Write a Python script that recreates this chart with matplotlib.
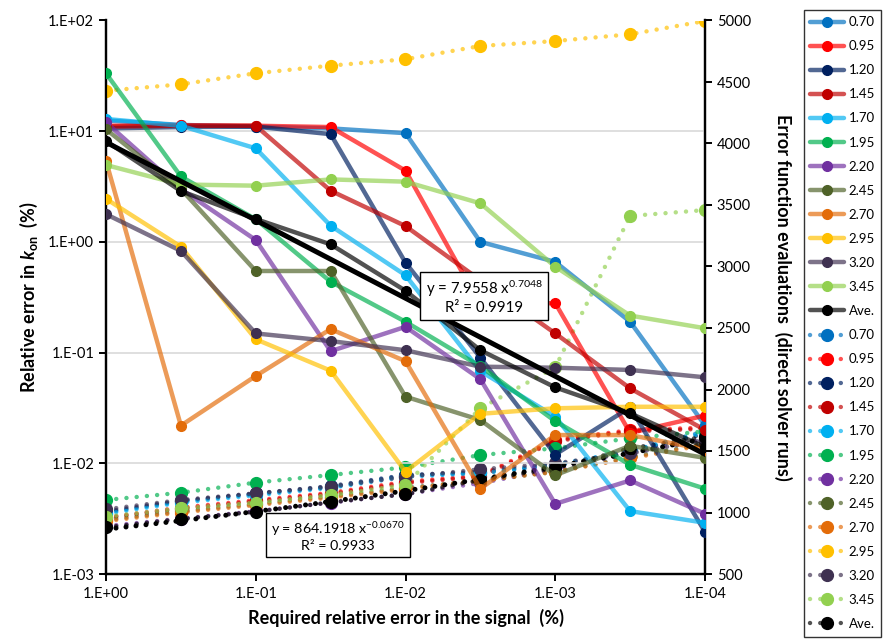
import numpy as np
import matplotlib
matplotlib.use("Agg")
import matplotlib.pyplot as plt
from matplotlib.lines import Line2D
from matplotlib.legend_handler import HandlerLine2D

plt.rcParams['font.family'] = ['Lato', 'DejaVu Sans']
plt.rcParams['mathtext.fontset'] = 'custom'
plt.rcParams['mathtext.rm'] = 'Lato'
plt.rcParams['mathtext.it'] = 'Lato:italic:bold'
plt.rcParams['mathtext.bf'] = 'Lato:bold'

# Required relative error in the signal (%)
signal_error = [1.0, 3.162e-1, 1.0e-1, 3.162e-2, 1.0e-2, 3.162e-3, 1.0e-3, 3.162e-4, 1.0e-4]

series_names = ["0.70", "0.95", "1.20", "1.45", "1.70", "1.95",
                "2.20", "2.45", "2.70", "2.95", "3.20", "3.45", "Ave."]

# Relative error in k_on (%)
err_070 = [12.5, 11.4, 11.0, 10.6, 9.6, 1.0, 0.66, 0.19, 0.022]
err_095 = [11.2, 11.3, 11.2, 10.9, 4.4, 0.27, 0.28, 0.0188, 0.027]
err_120 = [10.6, 10.9, 11.0, 9.4, 0.65, 0.09, 0.012, 0.032, 0.0024]
err_145 = [11.0, 11.2, 11.2, 2.9, 1.39, 0.45, 0.149, 0.0475, 0.020]
err_170 = [12.9, 11.2, 7.0, 1.4, 0.50, 0.068, 0.0264, 0.0037, 0.0029]
err_195 = [33.3, 3.9, 1.6, 0.437, 0.19, 0.075, 0.024, 0.0097, 0.0059]
err_220 = [12.0, 3.0, 1.04, 0.103, 0.171, 0.0575, 0.0043, 0.0070, 0.0035]
err_245 = [10.4, 3.0, 0.546, 0.546, 0.040, 0.0246, 0.0078, 0.0144, 0.0112]
err_270 = [5.38, 0.0219, 0.0615, 0.163, 0.0836, 0.0059, 0.018, 0.018, 0.0133]
err_295 = [2.45, 0.905, 0.132, 0.0687, 0.0084, 0.028, 0.0314, 0.0324, 0.0324]
err_320 = [1.78, 0.83, 0.149, 0.127, 0.105, 0.0746, 0.073, 0.0697, 0.0598]
err_345 = [4.95, 3.3, 3.22, 3.67, 3.5, 2.23, 0.597, 0.216, 0.166]
err_ave = [8.15, 2.88, 1.61, 0.95, 0.362, 0.105, 0.0485, 0.0283, 0.014]

# Error function evaluations (direct solver runs)
ev_070 = [1000, 1090, 1150, 1205, 1300, 1320, 1380, 1500, 1660]
ev_095 = [960, 1040, 1100, 1160, 1250, 1300, 1590, 1670, 1690]
ev_120 = [1010, 1095, 1155, 1215, 1305, 1330, 1390, 1490, 1640]
ev_145 = [955, 1030, 1090, 1150, 1240, 1290, 1580, 1660, 1680]
ev_170 = [990, 1080, 1140, 1200, 1290, 1320, 1390, 1500, 1650]
ev_195 = [1102, 1161, 1243, 1305, 1367, 1467, 1522, 1603, 1660]
ev_220 = [890, 950, 1010, 1080, 1150, 1240, 1350, 1480, 1600]
ev_245 = [940, 1010, 1070, 1130, 1200, 1260, 1330, 1450, 1560]
ev_270 = [930, 1000, 1060, 1120, 1190, 1260, 1330, 1440, 1550]
ev_295 = [4429, 4481, 4571, 4633, 4685, 4793, 4833, 4888, 4996]
ev_320 = [1026, 1102, 1156, 1210, 1290, 1351, 1400, 1480, 1590]
ev_345 = [966, 1034, 1080, 1142, 1224, 1847, 2180, 3411, 3459]
ev_ave = [880, 947, 1006, 1083, 1148, 1264, 1359, 1522, 1616]

# Power-law fits y = a * x^b, with R²
fit_err = (7.9558, 0.7048, 0.9919)
fit_ev = (864.1918, -0.0670, 0.9933)

errors = [err_070, err_095, err_120, err_145, err_170, err_195, err_220,
          err_245, err_270, err_295, err_320, err_345, err_ave]
evals = [ev_070, ev_095, ev_120, ev_145, ev_170, ev_195, ev_220,
         ev_245, ev_270, ev_295, ev_320, ev_345, ev_ave]

line_colors = ["#0070C0", "#FF0000", "#002060", "#C00000", "#00B0F0", "#00B050",
               "#7030A0", "#4F6228", "#E36C09", "#FFC000", "#3F3151", "#92D050", "#000000"]

fig = plt.figure(figsize=(8.86, 6.42), dpi=100)
ax = fig.add_axes([106/886, 1 - 574/642, 599/886, 553.5/642])
ax2 = ax.twinx()

x = np.array(signal_error)
LW = 3.2
MS = 7.0
ALPHA = 0.68
dots = (0, (0.01, 2.3))

solid_handles = []
dot_handles = []
for name, e, v, c in zip(series_names, errors, evals, line_colors):
    ax.plot(x, e, color=c, lw=LW, alpha=ALPHA, solid_capstyle='round', zorder=2)
    ax.plot(x, e, ls='none', marker='o', ms=MS, color=c, zorder=3)
    ax2.plot(x, v, color=c, lw=LW, alpha=ALPHA, ls=dots, dash_capstyle='round', zorder=2)
    ax2.plot(x, v, ls='none', marker='o', ms=MS + 1.5, color=c, zorder=3)
    solid_handles.append(Line2D([], [], color=c, lw=LW, alpha=ALPHA, solid_capstyle='round'))
    dot_handles.append(Line2D([], [], color=c, lw=LW, alpha=ALPHA, ls=dots, dash_capstyle='round'))

# trend lines
xf = np.logspace(0, -4, 200)
a, b, r2 = fit_err
ax.plot(xf, a * xf ** b, color='black', lw=3.6, zorder=4)
a2, b2, r22 = fit_ev
ax2.plot(xf, a2 * xf ** b2, color='black', lw=3.6, ls=(0, (0.01, 2.0)),
         dash_capstyle='round', zorder=4)

box = dict(boxstyle='square,pad=0.35', fc='white', ec='black', lw=1.0)
ax.text(0.00298, 0.318, f"y = {a:.4f} x$^{{{b:.4f}}}$\nR² = {r2:.4f}",
        fontsize=10.8, ha='center', va='center', multialignment='center',
        linespacing=1.15, zorder=6, bbox=box)
ax2.text(0.0282, 809, f"y = {a2:.4f} x$^{{{b2:.4f}}}$\nR² = {r22:.4f}",
         fontsize=10.3, ha='center', va='center', multialignment='center',
         linespacing=1.2, zorder=6, bbox=box)

# axes
ax.set_xscale('log')
ax.set_yscale('log')
ax.set_xlim(1, 1e-4)
ax.set_ylim(1e-3, 1e2)
ax2.set_ylim(500, 5000)

ax.set_xticks([1, 1e-1, 1e-2, 1e-3, 1e-4])
ax.set_xticklabels(["1.E+00", "1.E-01", "1.E-02", "1.E-03", "1.E-04"])
ax.set_yticks([1e-3, 1e-2, 1e-1, 1, 10, 100])
ax.set_yticklabels(["1.E-03", "1.E-02", "1.E-01", "1.E+00", "1.E+01", "1.E+02"])
ax.minorticks_off()
ax2.set_yticks(np.arange(500, 5001, 500))

ax.yaxis.grid(True, color='#D9D9D9', lw=1.2)
ax.set_axisbelow(True)
for a_ in (ax, ax2):
    a_.spines['top'].set_visible(False)
    for s in ('left', 'right', 'bottom'):
        a_.spines[s].set_linewidth(1.6)
        a_.spines[s].set_color('black')
    a_.tick_params(axis='both', which='major', labelsize=10.5, width=1.4, length=5, colors='black')
ax.tick_params(axis='x', pad=4)
ax.set_zorder(ax2.get_zorder() + 1)
ax.patch.set_visible(False)

ax.set_xlabel("Required relative error in the signal  (%)", fontsize=13, fontweight='bold', labelpad=6)
ax.set_ylabel(r"Relative error in $k_{\mathbf{on}}$  (%)", fontsize=13, fontweight='bold', labelpad=6)
ax2.set_ylabel("Error function evaluations  (direct solver runs)", fontsize=13,
               fontweight='bold', rotation=270, labelpad=30)


class WithMarker(HandlerLine2D):
    """Legend line with a round marker drawn at its centre."""
    def __init__(self, color, ms, **kw):
        super().__init__(**kw)
        self.c = color
        self.ms = ms

    def create_artists(self, legend, orig_handle, xdescent, ydescent, width, height, fontsize, trans):
        arts = super().create_artists(legend, orig_handle, xdescent, ydescent, width, height, fontsize, trans)
        m = Line2D([width / 2 - xdescent], [height / 2 - ydescent], marker='o', ms=self.ms,
                   color=self.c, ls='none', transform=trans)
        return list(arts) + [m]


hmap = {}
for h, c in zip(solid_handles, line_colors):
    hmap[h] = WithMarker(c, MS)
for h, c in zip(dot_handles, line_colors):
    hmap[h] = WithMarker(c, MS + 1.5)

leg = fig.legend(solid_handles + dot_handles, series_names + series_names,
                 loc='upper left', bbox_to_anchor=(797/886, 1 - 3/642),
                 fontsize=9.5, frameon=True, fancybox=False, edgecolor='black',
                 handlelength=2.6, handletextpad=0.3, labelspacing=0.915, borderpad=0.5,
                 handler_map=hmap)
leg.get_frame().set_linewidth(1.0)

fig.savefig("out.png", dpi=100)
